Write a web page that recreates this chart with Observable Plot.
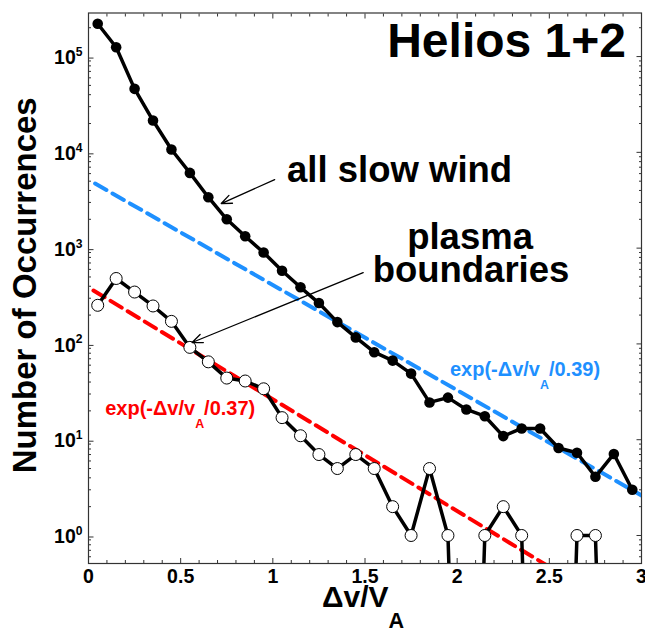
<!DOCTYPE html>
<html><head><meta charset="utf-8">
<script src="https://cdn.jsdelivr.net/npm/d3@7"></script>
<script src="https://cdn.jsdelivr.net/npm/@observablehq/plot@0.6"></script>
<style>
html,body{margin:0;padding:0;background:#fff;}
#chart{width:645px;height:631px;}
</style></head>
<body><div id="chart"></div>
<script>
// ---- data ----
const dv = [0.05,0.15,0.25,0.35,0.45,0.55,0.65,0.75,0.85,0.95,1.05,1.15,1.25,1.35,1.45,1.55,1.65,1.75,1.85,1.95,2.05,2.15,2.25,2.35,2.45,2.55,2.65,2.75,2.85,2.95];
const slowWind = [220000,125000,46000,21500,10700,6100,3400,2000,1330,900,580,390,267,169,117,82,67,49,24.5,27.5,20.7,17.6,10.9,13.1,13.1,8.2,7.3,4.1,7.1,3.0];
const boundaries = [253,482,348,249,172,92,65,44,41,34,17,11,7,5,7,5,2,1,5,1,0,1,2,1,0,0,1,1,0,0];
const fitSlowX = [0.036, 3.0];
const fitSlowY = [4720, 2.62];
const fitBoundX = [0.027, 2.5];
const fitBoundY = [361, 0.47];
const yMajorTicks = [1, 10, 100, 1000, 10000, 100000];
const xMajorTicks = [0, 0.5, 1, 1.5, 2, 2.5, 3];
const titleText = "Helios 1+2";
const xTitle = "Δv/V_A";
const yTitle = "Number of Occurrences";
const fitSlowLabel = "exp(-Δv/v_A/0.39)";
const fitBoundLabel = "exp(-Δv/v_A/0.37)";
const slowLabel = "all slow wind";
const boundLabel1 = "plasma";
const boundLabel2 = "boundaries";

// ---- derived tables ----
const slowRows = dv.map((x, i) => ({x, y: slowWind[i]}));
const boundRows = dv.map((x, i) => ({x, y: boundaries[i]}));
const fitSlowRows = fitSlowX.map((x, i) => ({x, y: fitSlowY[i]}));
const fitBoundRows = fitBoundX.map((x, i) => ({x, y: fitBoundY[i]}));
const BELOW = 1e-6; // zero counts fall below the log axis
const yMinorTicks = [];
for (let e = -1; e <= 5; e++) for (let k = 2; k <= 9; k++) {
  const v = k * Math.pow(10, e);
  if (v > 0.51 && v < 2.85e5) yMinorTicks.push(v);
}
const xMinorTicks = d3.range(0, 31).map(i => i / 10).filter(v => Math.abs(v * 2 - Math.round(v * 2)) > 1e-9);

const AX = "#333";
const BLUE = "#1e90ff";
const RED = "#ff0000";

const plot = Plot.plot({
  width: 645, height: 631,
  marginLeft: 88, marginRight: 4, marginTop: 12.5, marginBottom: 68,
  style: {fontFamily: "'Liberation Sans', Arial, Helvetica, sans-serif", fontWeight: "bold", background: "#fff", color: "#000"},
  x: {domain: [0, 3]},
  y: {type: "log", domain: [0.51, 2.85e5]},
  marks: [
    // axes (ticks inside the frame)
    Plot.axisY({ticks: yMinorTicks, anchor: "left", tickSize: -3, stroke: AX, fill: "none", label: null}),
    Plot.axisY({ticks: yMinorTicks, anchor: "right", tickSize: -3, stroke: AX, fill: "none", label: null}),
    Plot.axisY({ticks: yMajorTicks, anchor: "right", tickSize: -5.5, stroke: AX, fill: "none", label: null}),
    Plot.axisY({ticks: yMajorTicks, anchor: "left", tickSize: -5.5, tickPadding: 11.5, stroke: AX, fill: "#000",
      fontSize: 19.5, dy: 1.5, label: null, tickFormat: d => `10^${Math.round(Math.log10(d))}`}),
    Plot.axisX({ticks: xMinorTicks, anchor: "bottom", tickSize: -3, stroke: AX, fill: "none", label: null}),
    Plot.axisX({ticks: xMinorTicks, anchor: "top", tickSize: -3, stroke: AX, fill: "none", label: null}),
    Plot.axisX({ticks: xMajorTicks, anchor: "top", tickSize: -5, stroke: AX, fill: "none", label: null}),
    Plot.axisX({ticks: xMajorTicks, anchor: "bottom", tickSize: -5, tickPadding: 11, stroke: AX, fill: "#000",
      fontSize: 19.5, label: null, tickFormat: d => `${d}`}),
    Plot.frame({stroke: AX, strokeWidth: 1.2}),
    // fits
    Plot.line(fitSlowRows, {x: "x", y: "y", stroke: BLUE, strokeWidth: 4, strokeDasharray: "13,7", clip: true}),
    Plot.line(fitBoundRows, {x: "x", y: "y", stroke: RED, strokeWidth: 4, strokeDasharray: "13,7", clip: true}),
    // series
    Plot.line(slowRows, {x: "x", y: "y", stroke: "#000", strokeWidth: 3.5, clip: true}),
    Plot.dot(slowRows, {x: "x", y: "y", r: 5.3, fill: "#000", stroke: "none"}),
    Plot.line(boundRows, {x: "x", y: d => d.y > 0 ? d.y : BELOW, stroke: "#000", strokeWidth: 3.5, clip: true}),
    Plot.dot(boundRows.filter(d => d.y > 0), {x: "x", y: "y", r: 6, fill: "#fff", stroke: "#000", strokeWidth: 1}),
    // annotations
    Plot.arrow([slowLabel], {x1: 1.01, y1: 5200, x2: 0.72, y2: 2920, stroke: "#000", strokeWidth: 1.3, headLength: 13, headAngle: 45}),
    Plot.arrow([boundLabel2], {x1: 1.49, y1: 556, x2: 0.562, y2: 103.5, stroke: "#000", strokeWidth: 1.3, headLength: 13, headAngle: 45}),
    Plot.text([titleText], {x: 2.916, y: 1e5, text: d => d, textAnchor: "end", lineAnchor: "bottom", fontSize: 48, fill: "#000"}),
    Plot.text([slowLabel], {x: 1.077, y: 4950, text: d => d, textAnchor: "start", lineAnchor: "bottom", fontSize: 36.5, fill: "#000"}),
    Plot.text([boundLabel1], {x: 2.07, y: 990, text: d => d, textAnchor: "middle", lineAnchor: "bottom", fontSize: 36.5, fill: "#000"}),
    Plot.text([boundLabel2], {x: 2.075, y: 438, text: d => d, textAnchor: "middle", lineAnchor: "bottom", fontSize: 36.5, fill: "#000"}),
    Plot.text([fitSlowLabel], {x: 1.961, y: 45.7, text: d => d, textAnchor: "start", lineAnchor: "bottom", fontSize: 20, fill: BLUE}),
    Plot.text([fitBoundLabel], {x: 0.0906, y: 17.9, text: d => d, textAnchor: "start", lineAnchor: "bottom", fontSize: 20, fill: RED}),
    // axis titles
    Plot.text([yTitle], {frameAnchor: "left", rotate: -90, dx: -53, dy: -3, text: d => d, textAnchor: "middle", lineAnchor: "bottom", fontSize: 33, fill: "#000"}),
    Plot.text([xTitle], {frameAnchor: "bottom", dy: 43, dx: -2, text: d => d, textAnchor: "middle", lineAnchor: "bottom", fontSize: 30, fill: "#000"})
  ]
});

document.getElementById("chart").appendChild(plot);

// turn "_X" / "^X" markers into sub/superscript tspans
(function scriptify(svg) {
  const ns = "http://www.w3.org/2000/svg";
  for (const t of svg.querySelectorAll("text")) {
    const s = t.textContent;
    const m = s.match(/^(.*?)([_^])(.)(.*)$/);
    if (!m) continue;
    const base = parseFloat(getComputedStyle(t).fontSize) || 20;
    let size, shift;
    if (m[2] === "^") { size = base * 0.62; shift = -base * 0.42; }
    else if (base >= 28) { size = base * 0.72; shift = base * 0.7; }
    else { size = base * 0.62; shift = base * 0.65; }
    t.textContent = "";
    const a = document.createElementNS(ns, "tspan"); a.textContent = m[1];
    const b = document.createElementNS(ns, "tspan"); b.textContent = m[3];
    b.setAttribute("font-size", size.toFixed(1)); b.setAttribute("dy", shift.toFixed(1));
    t.append(a, b);
    if (m[4]) {
      const c = document.createElementNS(ns, "tspan"); c.textContent = m[4];
      c.setAttribute("dy", (-shift).toFixed(1));
      t.append(c);
    }
  }
})(plot);
</script>
</body></html>
